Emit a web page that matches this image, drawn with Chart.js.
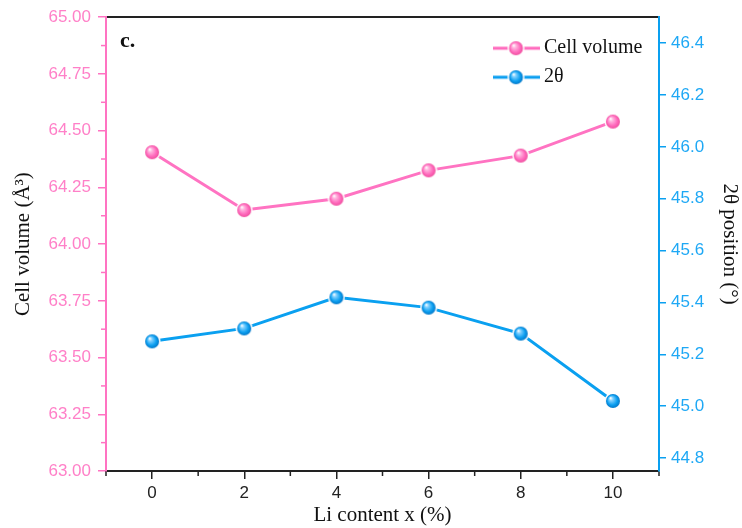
<!DOCTYPE html>
<html>
<head>
<meta charset="utf-8">
<script src="https://cdn.jsdelivr.net/npm/chart.js@4.4.1/dist/chart.umd.min.js"></script>
<style>
  html, body { margin: 0; padding: 0; background: #fff; }
  #wrap { width: 742px; height: 528px; }
</style>
</head>
<body>
<div id="wrap"><canvas id="myChart" width="742" height="528"></canvas></div>
<script>
// data
const liContent = [0, 2, 4, 6, 8, 10];
const cellVolume = [64.405, 64.15, 64.20, 64.325, 64.39, 64.54];
const twoTheta = [45.25, 45.30, 45.42, 45.38, 45.28, 45.02];

// ticks
const xMajor = [0, 2, 4, 6, 8, 10];
const xMinor = [-1, 1, 3, 5, 7, 9, 11];
const leftMajor = [63.00, 63.25, 63.50, 63.75, 64.00, 64.25, 64.50, 64.75, 65.00];
const leftMinor = [63.125, 63.375, 63.625, 63.875, 64.125, 64.375, 64.625, 64.875];
const rightMajor = [44.8, 45.0, 45.2, 45.4, 45.6, 45.8, 46.0, 46.2, 46.4];

const pink = '#ff73c2';
const pinkText = '#ff80c8';
const blue = '#0aa0f0';
const blueText = '#1ea8f5';
const dark = '#222';

function makeBall(base, light, shade, withLine) {
  const w = withLine ? 47 : 18, h = 18;
  const c = document.createElement('canvas');
  c.width = w; c.height = h;
  const g = c.getContext('2d');
  const cx = w / 2, cy = h / 2;
  if (withLine) {
    g.strokeStyle = base; g.lineWidth = 3;
    g.beginPath(); g.moveTo(0, cy); g.lineTo(w, cy); g.stroke();
  }
  g.fillStyle = '#fff';
  g.beginPath(); g.arc(cx, cy, 8.5, 0, Math.PI * 2); g.fill();
  const grad = g.createRadialGradient(cx - 2.5, cy - 3, 0.3, cx, cy, 7);
  grad.addColorStop(0, '#ffffff');
  grad.addColorStop(0.25, light);
  grad.addColorStop(0.7, base);
  grad.addColorStop(1, shade);
  g.fillStyle = grad;
  g.beginPath(); g.arc(cx, cy, 7, 0, Math.PI * 2); g.fill();
  return c;
}

const pinkBall = makeBall('#ff6abd', '#ffb6df', '#f0509f', false);
const blueBall = makeBall('#0a9ef0', '#7fd0ff', '#0578c8', false);
const pinkLegend = makeBall('#ff6abd', '#ffb6df', '#f0509f', true);
const blueLegend = makeBall('#0a9ef0', '#7fd0ff', '#0578c8', true);

const minorTicks = {
  id: 'minorTicks',
  afterDraw(chart) {
    const ctx = chart.ctx;
    const { x, y, y1 } = chart.scales;
    ctx.save();
    ctx.lineWidth = 1.5;
    ctx.strokeStyle = pink;
    leftMinor.forEach(v => {
      const py = y.getPixelForValue(v);
      ctx.beginPath(); ctx.moveTo(y.right - 1, py); ctx.lineTo(y.right - 5, py); ctx.stroke();
    });
    ctx.strokeStyle = dark;
    xMinor.forEach(v => {
      const px = x.getPixelForValue(v);
      ctx.beginPath(); ctx.moveTo(px, x.top + 1); ctx.lineTo(px, x.top + 5); ctx.stroke();
    });
    // panel letter
    ctx.fillStyle = '#111';
    ctx.font = 'bold 22px "Liberation Serif"';
    ctx.textBaseline = 'alphabetic';
    ctx.fillText('c.', chart.chartArea.left + 14, chart.chartArea.top + 30);
    ctx.restore();
  }
};

const legendPlace = {
  id: 'legendPlace',
  afterLayout(chart) {
    const lg = chart.legend;
    lg.left = chart.chartArea.right - 170;
    lg.top = chart.chartArea.top + 12;
  }
};

const ctx = document.getElementById('myChart').getContext('2d');

new Chart(ctx, {
  type: 'line',
  data: {
    datasets: [
      {
        label: 'Cell volume',
        data: liContent.map((v, i) => ({ x: v, y: cellVolume[i] })),
        yAxisID: 'y',
        borderColor: pink,
        borderWidth: 3,
        pointStyle: pinkBall,
        pointRadius: 7,
        tension: 0,
      },
      {
        label: '2θ',
        data: liContent.map((v, i) => ({ x: v, y: twoTheta[i] })),
        yAxisID: 'y1',
        borderColor: blue,
        borderWidth: 3,
        pointStyle: blueBall,
        pointRadius: 7,
        tension: 0,
      },
    ],
  },
  options: {
    responsive: false,
    devicePixelRatio: 1,
    animation: false,
    layout: { padding: 0 },
    plugins: {
      tooltip: { enabled: false },
      legend: {
        position: 'chartArea',
        align: 'start',
        labels: {
          usePointStyle: true,
          pointStyleWidth: 36,
          padding: 9,
          color: '#111',
          font: { family: '"Liberation Serif"', size: 20 },
          generateLabels: (chart) => [
            { text: 'Cell volume', pointStyle: pinkLegend, datasetIndex: 0, fontColor: '#111', lineWidth: 0, strokeStyle: 'transparent', fillStyle: 'transparent' },
            { text: '2θ', pointStyle: blueLegend, datasetIndex: 1, fontColor: '#111', lineWidth: 0, strokeStyle: 'transparent', fillStyle: 'transparent' },
          ],
        },
      },
    },
    scales: {
      x: {
        type: 'linear',
        position: 'bottom',
        min: -1,
        max: 11,
        afterBuildTicks: (s) => { s.ticks = xMinor.concat(xMajor).sort((a, b) => a - b).map(v => ({ value: v })); },
        afterFit: (s) => { s.height = 57; },
        ticks: {
          autoSkip: false,
          maxRotation: 0,
          padding: 4,
          color: dark,
          font: { family: '"Liberation Sans"', size: 17 },
          callback: (v) => (xMajor.includes(v) ? String(v) : ''),
        },
        grid: {
          drawOnChartArea: false,
          tickLength: 8,
          lineWidth: 1.5,
          color: (c) => (c.tick && xMajor.includes(c.tick.value) ? dark : 'transparent'),
        },
        border: { display: true, color: dark, width: 2 },
        title: {
          display: true,
          text: 'Li content x (%)',
          color: '#111',
          font: { family: '"Liberation Serif"', size: 21 },
          padding: { top: 0, bottom: 0 },
        },
      },
      xTop: {
        type: 'linear',
        position: 'top',
        min: -1,
        max: 11,
        afterFit: (s) => { s.height = 15; },
        ticks: { display: false },
        grid: { display: false, drawTicks: false },
        border: { display: true, color: dark, width: 2 },
      },
      y: {
        type: 'linear',
        position: 'left',
        min: 63,
        max: 65,
        afterBuildTicks: (s) => { s.ticks = leftMinor.concat(leftMajor).sort((a, b) => a - b).map(v => ({ value: v })); },
        afterFit: (s) => { s.width = 106; },
        ticks: {
          autoSkip: false,
          padding: 7,
          color: pinkText,
          font: { family: '"Liberation Sans"', size: 17 },
          callback: (v) => (leftMajor.includes(v) ? v.toFixed(2) : ''),
        },
        grid: {
          drawOnChartArea: false,
          tickLength: 8,
          lineWidth: 1.5,
          color: (c) => (c.tick && leftMajor.includes(c.tick.value) ? pink : 'transparent'),
        },
        border: { display: true, color: pink, width: 2 },
        title: {
          display: true,
          text: 'Cell volume (Å³)',
          color: '#111',
          font: { family: '"Liberation Serif"', size: 21 },
          padding: { top: 11, bottom: 0 },
        },
      },
      y1: {
        type: 'linear',
        position: 'right',
        min: 44.75,
        max: 46.5,
        afterBuildTicks: (s) => { s.ticks = rightMajor.map(v => ({ value: v })); },
        afterFit: (s) => { s.width = 83; },
        ticks: {
          autoSkip: false,
          padding: 5,
          color: blueText,
          font: { family: '"Liberation Sans"', size: 17 },
          callback: (v) => v.toFixed(1),
        },
        grid: {
          drawOnChartArea: false,
          tickLength: 7,
          lineWidth: 1.5,
          color: blue,
        },
        border: { display: true, color: blue, width: 2 },
        title: {
          display: true,
          text: '2θ position (°)',
          color: '#111',
          font: { family: '"Liberation Serif"', size: 21 },
          padding: { top: 0, bottom: 0 },
        },
      },
    },
  },
  plugins: [minorTicks, legendPlace],
});
</script>
</body>
</html>
